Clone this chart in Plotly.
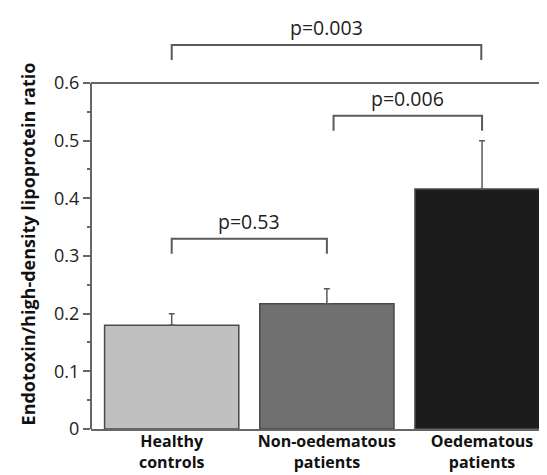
import plotly.graph_objects as go

# ---- data ----
categories = ["Healthy<br>controls", "Non-oedematous<br>patients", "Oedematous<br>patients"]
means = [0.18, 0.217, 0.416]
errors_up = [0.02, 0.026, 0.084]
bar_colors = ["#c0c0c0", "#707070", "#1c1c1c"]
y_tick_values = [0, 0.1, 0.2, 0.3, 0.4, 0.5, 0.6]
y_tick_labels = ["0", "0.1", "0.2", "0.3", "0.4", "0.5", "0.6"]
comparisons = [(0, 1), (1, 2), (0, 2)]
p_labels = ["p=0.53", "p=0.006", "p=0.003"]
y_title = "Endotoxin/high-density lipoprotein ratio"

# ---- layout constants ----
bracket_levels = [0.33, 0.543, 0.666]
leg_len = 0.026
leg_offsets = [(0, 0), (0.043, 0), (0, -0.005)]
FONT = "Open Sans"
LINE = "#5a5a5a"

xs = list(range(len(categories)))

fig = go.Figure()
fig.add_trace(go.Bar(
    x=xs, y=means, width=0.865,
    marker=dict(color=bar_colors, line=dict(color="#4a4a4a", width=1.5)),
    error_y=dict(type="data", array=errors_up, arrayminus=[0] * len(means),
                 symmetric=False, color=LINE, thickness=1.5, width=3),
    showlegend=False, hoverinfo="skip",
))

shapes = []
annotations = []
for (a, b), lvl, txt, (oa, ob) in zip(comparisons, bracket_levels, p_labels, leg_offsets):
    xa, xb = xs[a] + oa, xs[b] + ob
    shapes.append(dict(type="path", xref="x", yref="y",
                       path=f"M {xa},{lvl - leg_len} L {xa},{lvl} L {xb},{lvl} L {xb},{lvl - leg_len}",
                       line=dict(color=LINE, width=2)))
    annotations.append(dict(x=(xa + xb) / 2, y=lvl, xref="x", yref="y", text=txt,
                            showarrow=False, yanchor="bottom", yshift=2,
                            font=dict(family=FONT, size=19.5, color="#222")))

# y-axis title
annotations.append(dict(x=0, y=0.32, xref="paper", yref="y", text=f"<b>{y_title}</b>",
                        textangle=-90, showarrow=False, xanchor="center", yanchor="middle",
                        xshift=-63,
                        font=dict(family=FONT, size=18, color="#111")))

# y axis line and top frame line (0 to 0.6)
shapes.append(dict(type="line", xref="paper", yref="y", x0=0, x1=0, y0=0, y1=0.6,
                   line=dict(color="#666", width=2)))
shapes.append(dict(type="line", xref="paper", yref="y", x0=0, x1=1, y0=0.6, y1=0.6,
                   line=dict(color="#666", width=2)))

fig.update_layout(
    width=547, height=475,
    margin=dict(l=83, r=0, t=0, b=54),
    plot_bgcolor="white", paper_bgcolor="white",
    bargap=0.135,
    shapes=shapes, annotations=annotations,
    xaxis=dict(range=[-0.52, 2.47], tickvals=xs,
               ticktext=[f"<b>{c}</b>" for c in categories],
               tickfont=dict(family=FONT, size=16, color="#111"),
               ticklabelstandoff=-3,
               showline=True, linecolor="#666", linewidth=2,
               ticks="", showgrid=False, zeroline=False, fixedrange=True,
               automargin=False),
    yaxis=dict(range=[0, 0.73], tickvals=y_tick_values, ticktext=y_tick_labels,
               tickfont=dict(family=FONT, size=18, color="#222"),
               ticks="outside", ticklen=7, tickwidth=1.5, tickcolor="#666",
               minor=dict(tickvals=[0.05, 0.15, 0.25, 0.35, 0.45, 0.55],
                          ticks="outside", ticklen=3, tickwidth=1.5, tickcolor="#666"),
               showline=False, showgrid=False, zeroline=False,
               fixedrange=True, automargin=False),
)

fig.write_html("out.html")
